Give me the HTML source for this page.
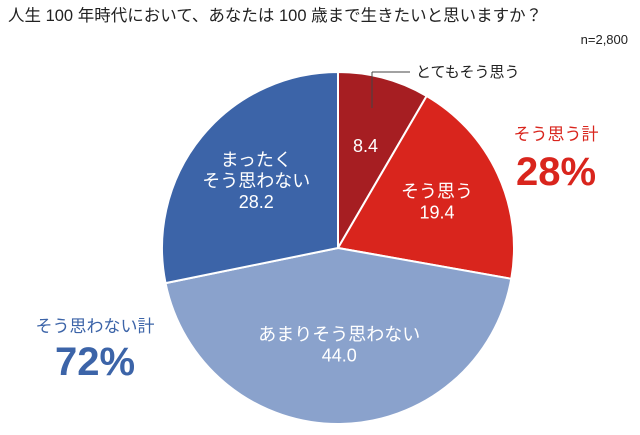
<!DOCTYPE html>
<html><head><meta charset="utf-8">
<style>
body{margin:0;background:#fff;width:640px;height:430px;overflow:hidden;font-family:"Liberation Sans","Noto Sans CJK JP",sans-serif;}
svg text{font-family:"Liberation Sans","Noto Sans CJK JP",sans-serif;}
</style></head>
<body>
<svg id="chart" width="640" height="430">
<text x="8" y="21" font-size="16.5" fill="#222">人生 100 年時代において、あなたは 100 歳まで生きたいと思いますか？</text>
<text x="628" y="44" font-size="13" fill="#222" text-anchor="end">n=2,800</text>
<g id="slices"></g>
<line x1="372" y1="108" x2="372" y2="72" stroke="#444" stroke-width="1"/>
<line x1="372" y1="72" x2="410" y2="72" stroke="#444" stroke-width="1"/>
<text x="416" y="77" font-size="15" fill="#222">とてもそう思う</text>
<text x="556" y="140" font-size="17" fill="#d9251d" text-anchor="middle">そう思う計</text>
<text x="556" y="185" font-size="40" font-weight="bold" fill="#d9251d" text-anchor="middle">28%</text>
<text x="95" y="332" font-size="17" fill="#3c64a8" text-anchor="middle">そう思わない計</text>
<text x="95" y="375" font-size="40" font-weight="bold" fill="#3c64a8" text-anchor="middle">72%</text>
</svg>
<script>
const categories=["とてもそう思う","そう思う","あまりそう思わない","まったく\nそう思わない"];
const values=[8.4,19.4,44.0,28.2];
const showName=[false,true,true,true];
const colors=["#a61e22","#d9251d","#8aa2cc","#3c64a8"];
const cx=338,cy=248,r=176;
const g=document.getElementById('slices');
const NS="http://www.w3.org/2000/svg";
const total=values.reduce((a,b)=>a+b,0);
function pt(a,rr){return [cx+rr*Math.sin(a),cy-rr*Math.cos(a)];}
let acc=0;
const labelR=[0.6,0.62,0.55,0.6];
values.forEach((v,i)=>{
  const a0=acc/total*2*Math.PI; acc+=v; const a1=acc/total*2*Math.PI;
  const p0=pt(a0,r),p1=pt(a1,r);
  const path=document.createElementNS(NS,'path');
  path.setAttribute('d',`M${cx},${cy}L${p0[0]},${p0[1]}A${r},${r} 0 ${a1-a0>Math.PI?1:0} 1 ${p1[0]},${p1[1]}Z`);
  path.setAttribute('fill',colors[i]);path.setAttribute('stroke','#fff');path.setAttribute('stroke-width','2');
  
  
  g.appendChild(path);
  const m=(a0+a1)/2; const lp=pt(m,r*labelR[i]);
  const lines=showName[i]?categories[i].split("\n").concat([v.toFixed(1)]):[v.toFixed(1)];
  const t=document.createElementNS(NS,'text');
  t.setAttribute('text-anchor','middle');t.setAttribute('fill','#fff');t.setAttribute('font-size','18');
  
  
  const lh=21,y0=lp[1]-(lines.length-1)*lh/2+6;
  lines.forEach((s,j)=>{const ts=document.createElementNS(NS,'tspan');ts.setAttribute('x',lp[0]);ts.setAttribute('y',y0+j*lh);ts.textContent=s;t.appendChild(ts);});
  g.appendChild(t);
});
</script>
</body></html>
